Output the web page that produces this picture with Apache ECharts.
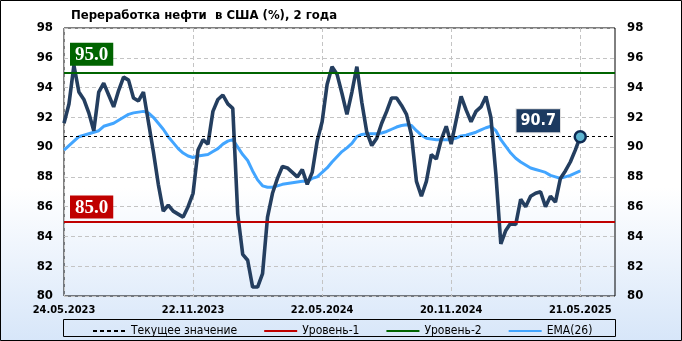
<!DOCTYPE html>
<html><head><meta charset="utf-8">
<script src="https://cdn.jsdelivr.net/npm/echarts@6/dist/echarts.min.js"></script>
<style>
html,body{margin:0;padding:0;background:#fff;}
#c{width:682px;height:341px;background:linear-gradient(to bottom,#ffffff 0%,#ffffff 55%,#d7e6f9 100%);}
</style></head><body><div id="c"></div>
<script>
const TITLE = 'Переработка нефти  в США (%), 2 года';
const TICK_LABELS = ['24.05.2023', '22.11.2023', '22.05.2024', '20.11.2024', '21.05.2025'];
const WEEKS_PER_TICK = 26;
const AXIS_WEEKS = 112;
const Y_TICKS = [80, 82, 84, 86, 88, 90, 92, 94, 96, 98];

const REFINING = [
  91.6, 92.9, 95.5, 93.7, 93.2, 92.3, 91.1, 93.7, 94.3, 93.5,
  92.7, 93.8, 94.7, 94.5, 93.3, 93.1, 93.7, 91.7, 89.7, 87.5,
  85.7, 86.1, 85.7, 85.5, 85.3, 86.0, 86.9, 89.8, 90.5, 90.2,
  92.4, 93.2, 93.5, 92.9, 92.6, 85.5, 82.8, 82.4, 80.6, 80.6,
  81.5, 85.3, 86.9, 87.9, 88.7, 88.6, 88.3, 88.0, 88.5, 87.5,
  88.3, 90.4, 91.7, 94.2, 95.4, 94.9, 93.6, 92.2, 93.7, 95.4,
  93.0, 91.0, 90.1, 90.6, 91.6, 92.4, 93.3, 93.3, 92.8, 92.2,
  90.8, 87.7, 86.7, 87.7, 89.5, 89.2, 90.5, 91.4, 90.2, 91.8,
  93.4, 92.5, 91.7, 92.4, 92.7, 93.4, 92.0, 88.2, 83.5, 84.4,
  84.9, 84.8, 86.5, 86.0, 86.7, 86.9, 87.0, 86.0, 86.7, 86.3,
  87.9, 88.4, 89.0, 89.8, 90.7
];

const EMA26 = [
  89.8, 90.1, 90.4, 90.7, 90.8, 90.9, 91.0, 91.1, 91.4, 91.5,
  91.6, 91.8, 92.0, 92.2, 92.3, 92.35, 92.4, 92.3, 92.0, 91.6,
  91.2, 90.7, 90.3, 89.9, 89.6, 89.4, 89.3, 89.4, 89.45, 89.5,
  89.7, 89.9, 90.2, 90.4, 90.5, 90.0, 89.5, 89.1, 88.4, 87.8,
  87.4, 87.3, 87.3, 87.4, 87.5, 87.55, 87.6, 87.65, 87.7, 87.7,
  87.9, 88.0, 88.3, 88.6, 89.0, 89.35, 89.7, 89.95, 90.25, 90.7,
  90.85, 90.9, 90.9, 90.9, 90.95, 91.05, 91.2, 91.35, 91.45, 91.5,
  91.45, 91.1, 90.8, 90.6, 90.55, 90.5, 90.5, 90.5, 90.5, 90.6,
  90.75, 90.8, 90.9, 91.0, 91.15, 91.3, 91.4, 91.1, 90.5, 90.05,
  89.6, 89.25, 89.0, 88.8, 88.6, 88.5, 88.4, 88.3, 88.1, 88.0,
  87.9, 88.0, 88.1, 88.25, 88.4
];

const LEVEL_1 = 85.0;
const LEVEL_2 = 95.0;
const LAST_INDEX = REFINING.length - 1;
const CURRENT = REFINING[LAST_INDEX];

const categories = Array.from({length: AXIS_WEEKS}, (_, i) => String(i));
const isTick = (idx) => idx % WEEKS_PER_TICK === 0 && idx / WEEKS_PER_TICK < TICK_LABELS.length;

const FONT = 'DejaVu Sans Condensed, DejaVu Sans, sans-serif';
const gridDash = { color: '#c4c4c4', type: [4, 3], width: 1 };

const chart = echarts.init(document.getElementById('c'), null, { renderer: 'canvas' });
chart.setOption({
  backgroundColor: 'transparent',
  animation: false,
  title: {
    text: TITLE, left: 66, top: 4,
    textStyle: { fontFamily: FONT, fontSize: 13, fontWeight: 'bold', color: '#000' }
  },
  grid: { left: 64, right: 67, top: 28, bottom: 45, show: true, borderColor: '#000', borderWidth: 1, backgroundColor: 'transparent' },
  legend: {
    data: ['Текущее значение', 'Уровень-1', 'Уровень-2', 'EMA(26)'],
    left: 87, top: 320, itemWidth: 33, itemHeight: 10, itemGap: 26,
    itemStyle: { opacity: 0, borderWidth: 0 },
    textStyle: { fontFamily: FONT, fontSize: 12, color: '#000' },
    selectedMode: false
  },
  xAxis: {
    type: 'category', data: categories, boundaryGap: false,
    axisLine: { show: false }, axisTick: { show: false },
    axisLabel: {
      interval: (idx) => isTick(idx), margin: 9,
      formatter: (v, idx) => isTick(idx) ? TICK_LABELS[idx / WEEKS_PER_TICK] : '',
      fontFamily: FONT, fontSize: 11, fontWeight: 'bold', color: '#000'
    },
    splitLine: { show: true, interval: (idx) => idx % WEEKS_PER_TICK === 0, lineStyle: gridDash }
  },
  yAxis: [
    { type: 'value', min: Y_TICKS[0], max: Y_TICKS[Y_TICKS.length - 1], interval: 2,
      axisLine: { show: false }, axisTick: { show: false },
      axisLabel: { margin: 11, fontFamily: FONT, fontSize: 13, fontWeight: 'bold', color: '#000' },
      splitLine: { show: true, lineStyle: gridDash } },
    { type: 'value', position: 'right', min: Y_TICKS[0], max: Y_TICKS[Y_TICKS.length - 1], interval: 2,
      axisLine: { show: false }, axisTick: { show: false },
      axisLabel: { margin: 12, fontFamily: FONT, fontSize: 13, fontWeight: 'bold', color: '#000' },
      splitLine: { show: false } }
  ],
  graphic: [
    { type: 'rect', shape: { x: 0.5, y: 0.5, width: 681, height: 340 }, style: { fill: 'none', stroke: '#000', lineWidth: 1 }, silent: true, z: 100 },
    { type: 'rect', shape: { x: 63.5, y: 319.5, width: 552, height: 17 }, style: { fill: 'none', stroke: '#000', lineWidth: 1 }, silent: true, z: 100 }
  ],
  series: [
    {
      name: 'Текущее значение', type: 'line', data: [], symbol: 'none',
      lineStyle: { color: '#000', width: 1, type: [4, 3] }, itemStyle: { color: '#000' },
      markLine: {
        silent: true, symbol: 'none', animation: false,
        lineStyle: { color: '#000', width: 1, type: [3, 3] },
        label: { show: false },
        data: [{ yAxis: CURRENT }]
      }
    },
    {
      name: 'Уровень-1', type: 'line', data: [], symbol: 'none',
      lineStyle: { color: '#c00000', width: 3 }, itemStyle: { color: '#c00000' },
      markLine: {
        silent: true, symbol: 'none', animation: false,
        lineStyle: { color: '#c00000', width: 2, type: 'solid' },
        label: {
          show: true, position: 'insideStartTop', distance: [6, 3],
          formatter: () => LEVEL_1.toFixed(1),
          backgroundColor: '#c00000', color: '#fff', padding: [3, 5, 1, 5],
          fontFamily: 'Liberation Serif, serif', fontSize: 19, fontWeight: 'bold'
        },
        data: [{ yAxis: LEVEL_1 }]
      }
    },
    {
      name: 'Уровень-2', type: 'line', data: [], symbol: 'none',
      lineStyle: { color: '#006400', width: 3 }, itemStyle: { color: '#006400' },
      markLine: {
        silent: true, symbol: 'none', animation: false,
        lineStyle: { color: '#006400', width: 2, type: 'solid' },
        label: {
          show: true, position: 'insideStartTop', distance: [6, 7],
          formatter: () => LEVEL_2.toFixed(1),
          backgroundColor: '#006400', color: '#fff', padding: [3, 5, 1, 5],
          fontFamily: 'Liberation Serif, serif', fontSize: 19, fontWeight: 'bold'
        },
        data: [{ yAxis: LEVEL_2 }]
      }
    },
    {
      name: 'EMA(26)', type: 'line', data: EMA26, symbol: 'none', smooth: false,
      lineStyle: { color: '#42a5ff', width: 3 }, itemStyle: { color: '#42a5ff' }, z: 3
    },
    {
      name: 'Переработка', type: 'line', data: REFINING, symbol: 'none',
      lineStyle: { color: '#243e5f', width: 3.6 }, itemStyle: { color: '#243e5f' }, z: 4
    },
    {
      name: 'Последнее', type: 'scatter', data: [[LAST_INDEX, CURRENT]],
      symbol: 'circle', symbolSize: 11, z: 6,
      itemStyle: { color: '#5fb6d2', borderColor: '#0e2a52', borderWidth: 2.5, opacity: 1 },
      label: {
        show: true, position: 'inside', offset: [-42, -16],
        formatter: () => CURRENT.toFixed(1),
        backgroundColor: '#1c3a60', borderColor: '#e0e0e0', borderWidth: 1,
        color: '#fff', padding: [4, 4, 3, 4], opacity: 1,
        fontFamily: FONT, fontSize: 16, fontWeight: 'bold'
      }
    }
  ]
});
</script></body></html>
